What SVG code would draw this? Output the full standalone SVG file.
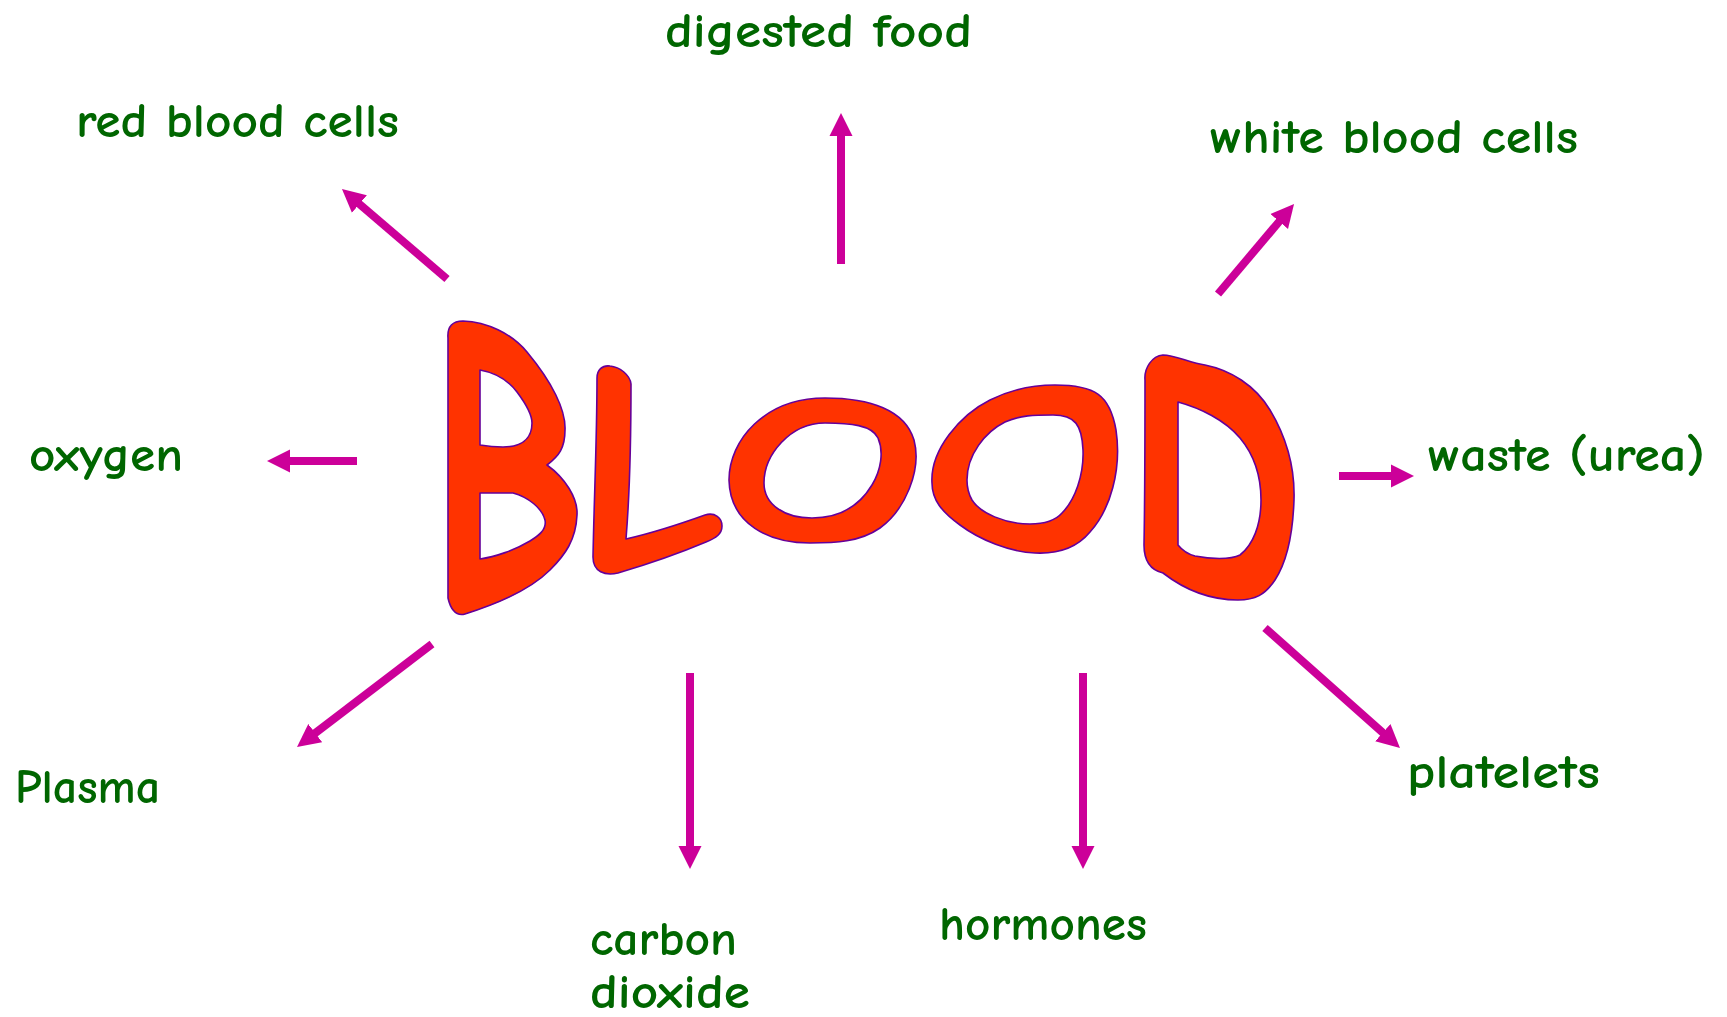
<svg xmlns="http://www.w3.org/2000/svg" width="1727" height="1017" viewBox="0 0 1727 1017">
<style>
.lbl{font-family:"Comic Sans MS","Comic Neue","DejaVu Sans",sans-serif;font-size:49px;font-weight:700;fill:#006600;}
.letter{fill:#FF3300;stroke:#660099;stroke-width:1.6;fill-rule:evenodd;stroke-linejoin:round;}
.arr{stroke:#CC0099;stroke-width:8;fill:none;marker-end:url(#ah);}
</style>
<defs>
<marker id="ah" markerUnits="userSpaceOnUse" viewBox="0 -12 23 24" refX="2" refY="0" markerWidth="23" markerHeight="24" orient="auto">
<path d="M0,-11.5 L23,0 L0,11.5 Z" fill="#CC0099"/>
</marker>
</defs>
<rect width="1727" height="1017" fill="#FFFFFF"/>

<g id="blood">
<path class="letter" d="M448,338 C447,326 453,321 463,321 C487,322 511,333 527,352 C552,382 566,410 565,430 C565,448 559,456 547,465 C565,478 578,498 577,515 C576,540 565,555 550,570 C530,590 500,603 465,614 C455,617 450,607 448,598 Z
M480,370 C497,373 508,380 517,392 C526,404 532,414 532,423 C532,440 520,447 503,447 C494,447 486,446 480,445 Z
M480,493 L513,493 C528,497 542,508 545,520 C547,530 538,536 530,541 C515,550 495,557 480,559 Z"/>
<path class="letter" d="M597,378 C597,370 602,365 610,366 C620,367 630,375 631,384 C631,440 630,490 626,539 C648,534 680,524 705,515 C715,512 722,518 722,526 C722,534 716,538 706,542 C680,553 645,565 618,573 C605,576 593,572 593,557 C594,500 597,440 597,378 Z"/>
<path class="letter" d="M729,480 C729,440 765,398 825,398 C870,398 905,410 914,440 C922,470 905,510 880,528 C860,542 835,543 810,543 C770,543 730,525 729,480 Z
M764,483 C764,455 790,423 825,423 C850,423 872,425 878,438 C884,452 881,470 872,485 C860,505 842,518 812,518 C785,518 764,505 764,483 Z"/>
<path class="letter" d="M932,483 C930,450 960,415 990,400 C1010,390 1030,385 1055,385 C1095,385 1110,395 1116,430 C1122,470 1110,510 1090,532 C1075,550 1055,554 1035,553 C1010,552 980,540 960,525 C942,512 932,500 932,483 Z
M967,480 C967,455 985,432 1005,422 C1020,415 1035,415 1053,415 C1075,415 1082,425 1083,450 C1084,475 1075,500 1062,513 C1055,521 1045,524 1030,524 C1005,524 980,513 972,500 C968,493 967,487 967,480 Z"/>
<path class="letter" d="M1145,380 C1144,368 1152,356 1163,355 C1175,355 1190,363 1205,365 C1230,370 1255,385 1270,410 C1288,440 1295,470 1294,500 C1293,530 1288,560 1275,580 C1265,595 1255,600 1238,600 C1210,600 1185,590 1163,573 C1150,570 1144,560 1144,545 C1145,490 1145,430 1145,380 Z
M1178,402 C1200,408 1225,420 1240,438 C1255,456 1261,478 1261,500 C1261,525 1253,545 1240,555 C1230,560 1210,559 1195,556 C1187,554 1182,550 1178,545 Z"/>
</g>

<g id="connectors">
<line class="arr" x1="447" y1="279" x2="357.9" y2="202.7"/>
<line class="arr" x1="841" y1="264" x2="841" y2="134"/>
<line class="arr" x1="1218" y1="294" x2="1280.5" y2="220"/>
<line class="arr" x1="357" y1="461" x2="288" y2="461"/>
<line class="arr" x1="1339" y1="476" x2="1393" y2="476"/>
<line class="arr" x1="432" y1="644" x2="313.7" y2="734.3"/>
<line class="arr" x1="690" y1="673" x2="690" y2="848"/>
<line class="arr" x1="1083" y1="673" x2="1083" y2="848"/>
<line class="arr" x1="1265" y1="628" x2="1384.3" y2="734"/>
</g>

<g id="digested-food"><text class="lbl" x="665" y="47" textLength="307" lengthAdjust="spacingAndGlyphs">digested food</text></g>
<g id="red-blood-cells"><text class="lbl" x="76" y="137" textLength="323" lengthAdjust="spacingAndGlyphs">red blood cells</text></g>
<g id="white-blood-cells"><text class="lbl" x="1210" y="153" textLength="368" lengthAdjust="spacingAndGlyphs">white blood cells</text></g>
<g id="oxygen"><text class="lbl" x="29" y="471" textLength="154" lengthAdjust="spacingAndGlyphs">oxygen</text></g>
<g id="waste"><text class="lbl" x="1428" y="471" textLength="277" lengthAdjust="spacingAndGlyphs">waste (urea)</text></g>
<g id="plasma"><text class="lbl" x="15" y="803" textLength="145" lengthAdjust="spacingAndGlyphs">Plasma</text></g>
<g id="platelets"><text class="lbl" x="1407" y="788" textLength="193" lengthAdjust="spacingAndGlyphs">platelets</text></g>
<g id="carbon-dioxide"><text class="lbl" x="590" y="955" textLength="147" lengthAdjust="spacingAndGlyphs">carbon</text><text class="lbl" x="590" y="1008" textLength="160" lengthAdjust="spacingAndGlyphs">dioxide</text></g>
<g id="hormones"><text class="lbl" x="939" y="940" textLength="208" lengthAdjust="spacingAndGlyphs">hormones</text></g>
</svg>
